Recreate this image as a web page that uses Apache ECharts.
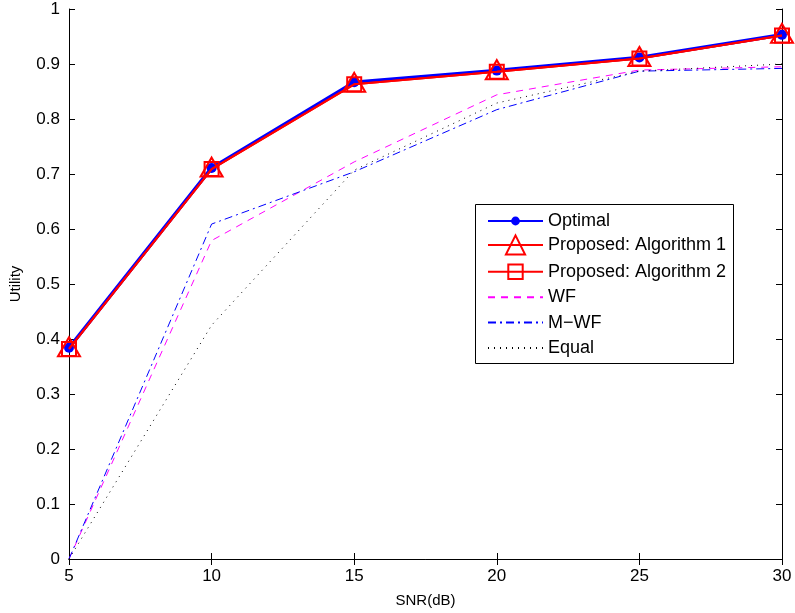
<!DOCTYPE html>
<html><head><meta charset="utf-8">
<script src="https://cdn.jsdelivr.net/npm/echarts@6/dist/echarts.min.js"></script>
<style>html,body{margin:0;padding:0;background:#fff}#c{width:795px;height:613px}</style>
</head><body><div id="c"></div>
<script>
const snr = [5, 10, 15, 20, 25, 30];
const optimal = [0.384, 0.711, 0.867, 0.888, 0.912, 0.953];
const alg1 = [0.382, 0.709, 0.863, 0.886, 0.910, 0.952];
const alg2 = [0.382, 0.709, 0.863, 0.886, 0.910, 0.952];
const wf = [0.0, 0.579, 0.722, 0.844, 0.889, 0.895];
const mwf = [0.0, 0.609, 0.704, 0.817, 0.887, 0.892];
const equal = [0.0, 0.425, 0.707, 0.829, 0.887, 0.900];
const yTicks = [0, 0.1, 0.2, 0.3, 0.4, 0.5, 0.6, 0.7, 0.8, 0.9, 1];
const seriesNames = ['Optimal', 'Proposed: Algorithm 1', 'Proposed: Algorithm 2', 'WF', 'M\u2212WF', 'Equal'];

const pair = a => snr.map((x, i) => [x, a[i]]);
const font = 'Liberation Sans, Arial, sans-serif';
const chart = echarts.init(document.getElementById('c'));
const axCommon = {
  axisLine: {show: true, lineStyle: {color: '#000', width: 1}},
  axisTick: {show: true, inside: true, length: 6, lineStyle: {color: '#000'}},
  splitLine: {show: false}
};

// legend: one component per row so each marker keeps its own size
const rowTop = 221, rowStep = 25.4, textH = 20;
const iconH = [11, 24, 18, 20, 20, 20];
const legends = seriesNames.map((n, i) => {
  const h = Math.max(iconH[i], textH);
  const item = {name: n};
  if (i >= 3) item.itemStyle = {opacity: 0};
  return {
    orient: 'vertical', left: 487, top: rowTop + i * rowStep - h / 2, padding: 0,
    itemWidth: 55, itemHeight: iconH[i], selectedMode: false, z: 10,
    textStyle: {fontSize: 18, lineHeight: textH, color: '#000', fontFamily: font},
    data: [item]
  };
});

chart.setOption({
  animation: false,
  backgroundColor: '#fff',
  textStyle: {fontFamily: font},
  grid: {left: 68, right: 13, top: 9, bottom: 54, containLabel: false},
  xAxis: [
    Object.assign({type: 'value', min: 5, max: 30, interval: 5, position: 'bottom',
      name: 'SNR(dB)', nameLocation: 'middle', nameGap: 34,
      nameTextStyle: {fontSize: 15, color: '#000', fontFamily: font},
      axisLabel: {fontSize: 17, color: '#000', margin: 9, fontFamily: font}}, axCommon),
    Object.assign({type: 'value', min: 5, max: 30, interval: 5, position: 'top',
      axisLabel: {show: false}}, axCommon)
  ],
  yAxis: [
    Object.assign({type: 'value', min: 0, max: 1, interval: 0.1, position: 'left',
      name: 'Utility', nameLocation: 'middle', nameGap: 46,
      nameTextStyle: {fontSize: 15, color: '#000', fontFamily: font},
      axisLabel: {fontSize: 17, color: '#000', margin: 9, fontFamily: font,
        formatter: v => { const r = Math.round(v * 10) / 10; return yTicks.includes(r) ? String(r) : ''; }}}, axCommon),
    Object.assign({type: 'value', min: 0, max: 1, interval: 0.1, position: 'right',
      axisLabel: {show: false}}, axCommon)
  ],
  graphic: [{
    type: 'rect', left: 475, top: 204, z: 5,
    shape: {width: 258, height: 159},
    style: {fill: '#fff', stroke: '#000', lineWidth: 1}
  }],
  legend: legends,
  series: [
    {name: seriesNames[0], type: 'line', data: pair(optimal), z: 3,
      lineStyle: {color: '#0000ff', width: 3.5}, itemStyle: {color: '#0000ff'},
      symbol: 'circle', symbolSize: 10, showAllSymbol: true},
    {name: seriesNames[1], type: 'line', data: pair(alg1), z: 4,
      lineStyle: {color: '#ff0000', width: 2}, itemStyle: {color: 'rgba(0,0,0,0)', borderColor: '#ff0000', borderWidth: 2},
      symbol: 'triangle', symbolSize: [22, 19], showAllSymbol: true, symbolOffset: [0, -2]},
    {name: seriesNames[2], type: 'line', data: pair(alg2), z: 4,
      lineStyle: {color: '#ff0000', width: 2}, itemStyle: {color: 'rgba(0,0,0,0)', borderColor: '#ff0000', borderWidth: 2},
      symbol: 'rect', symbolSize: 14, showAllSymbol: true},
    {name: seriesNames[3], type: 'line', data: pair(wf), z: 2, symbol: 'none',
      lineStyle: {color: '#ff00ff', width: 1, type: [7, 6]}, itemStyle: {color: '#ff00ff'}},
    {name: seriesNames[4], type: 'line', data: pair(mwf), z: 2, symbol: 'none',
      lineStyle: {color: '#0000ff', width: 1, type: [8, 4, 2, 4]}, itemStyle: {color: '#0000ff'}},
    {name: seriesNames[5], type: 'line', data: pair(equal), z: 2, symbol: 'none',
      lineStyle: {color: '#000', width: 1, type: [1, 5]}, itemStyle: {color: '#000'}}
  ]
});
</script></body></html>
